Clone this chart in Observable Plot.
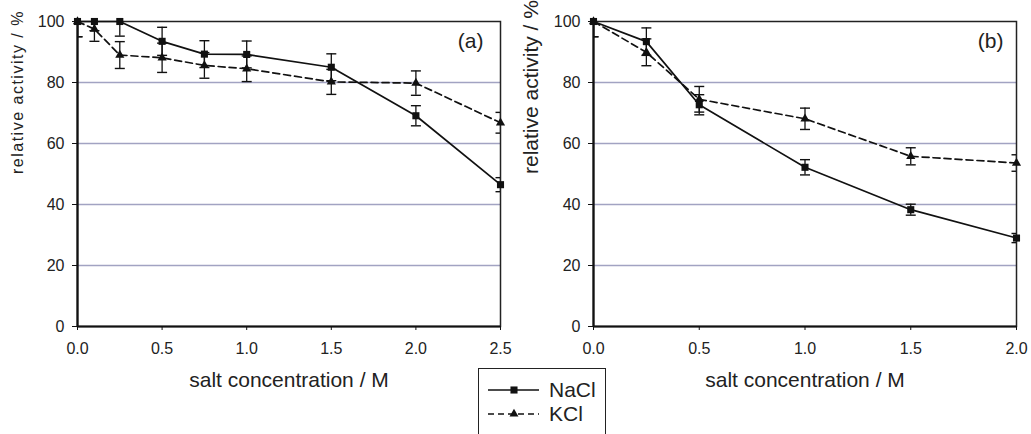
<!DOCTYPE html>
<html>
<head>
<meta charset="utf-8">
<script src="https://cdn.jsdelivr.net/npm/d3@7"></script>
<script src="https://cdn.jsdelivr.net/npm/@observablehq/plot@0.6"></script>
<style>
  html, body { margin: 0; padding: 0; background: #fff; }
  #wrap { position: relative; width: 1031px; height: 434px; overflow: hidden; font-family: "Liberation Sans", Arial, sans-serif; }
  #pa { position: absolute; left: 0; top: 0; }
  #pb { position: absolute; left: 515px; top: 0; }
  #legend { position: absolute; left: 478px; top: 368px; width: 128px; height: 80px; border: 1.5px solid #222; background: #fff; box-sizing: border-box; }
  #legend .row { position: absolute; left: 0; height: 24px; display: flex; align-items: center; }
  #legend .row span { font-size: 21px; color: #222; margin-left: 9px; }
</style>
</head>
<body>
<div id="wrap">
  <div id="pa"></div>
  <div id="pb"></div>
  <div id="legend"></div>
</div>
<script>
// ---- data ----
// panel (a)
const xA = [0, 0.1, 0.25, 0.5, 0.75, 1.0, 1.5, 2.0, 2.5];
const naclA = [100, 100, 100, 93.5, 89.3, 89.2, 85.0, 69.1, 46.5];
const naclAErr = [5, 3, 4.8, 4.6, 4.4, 4.4, 4.4, 3.3, 2.3];
const kclA = [100, 97.5, 89.0, 88.1, 85.6, 84.5, 80.2, 79.8, 66.8];
const kclAErr = [5, 4, 4.4, 4.8, 4.2, 4.2, 4.1, 4.0, 3.4];
// panel (b)
const xB = [0, 0.25, 0.5, 1.0, 1.5, 2.0];
const naclB = [100, 93.4, 72.7, 52.2, 38.3, 29.0];
const naclBErr = [5, 4.5, 3.3, 2.5, 1.8, 1.5];
const kclB = [100, 89.9, 74.5, 68.1, 55.8, 53.6];
const kclBErr = [5, 4.4, 4.2, 3.5, 2.8, 2.7];
// ticks and labels
const yTicks = [0, 20, 40, 60, 80, 100];
const gridTicks = [20, 40, 60, 80];
const xTicksA = [0, 0.5, 1.0, 1.5, 2.0, 2.5];
const xTicksB = [0, 0.5, 1.0, 1.5, 2.0];
const series = ["NaCl", "KCl"];
const xLabel = "salt concentration / M";
const yLabel = "relative activity / %";

const capSymbol = {
  draw(ctx, size) {
    const r = Math.sqrt(size / Math.PI);
    ctx.moveTo(-r, 0);
    ctx.lineTo(r, 0);
  }
};

function rows(xs, ys, es, s) {
  return xs.map((x, i) => ({x, y: ys[i], e: es[i], s}));
}

function panel(opts) {
  const {xs, na, naE, k, kE, xmax, xTicks, tag, width, mL, yLabelSize, yLabelDx, yLabelSpacing, tagDx} = opts;
  const dNa = rows(xs, na, naE, series[0]);
  const dK = rows(xs, k, kE, series[1]);
  const all = dNa.concat(dK);
  const ink = "#111";
  const fmt = d3.format(".1f");
  const plot = Plot.plot({
    width, height: 400,
    marginLeft: mL, marginRight: 15, marginTop: 21, marginBottom: 74,
    style: {fontFamily: "'Liberation Sans', Arial, sans-serif", fontSize: "16px", background: "transparent", color: "#222"},
    x: {domain: [0, xmax]},
    y: {domain: [0, 100]},
    marks: [
      Plot.gridY(gridTicks, {stroke: "#a2a3c2", strokeOpacity: 1, strokeWidth: 1.6}),
      Plot.frame({stroke: "#222", strokeWidth: 1.5}),
      Plot.ruleX([0], {stroke: "#111", strokeWidth: 2.2}),
      Plot.ruleY([0], {stroke: "#111", strokeWidth: 2.2}),
      Plot.axisY({ticks: yTicks, tickSize: 5, tickFormat: () => "", label: null, stroke: "#111"}),
      Plot.axisX({ticks: xTicks, tickSize: 4, tickFormat: () => "", label: null, stroke: "#111"}),
      Plot.text(yTicks, {y: d => d, frameAnchor: "left", dx: -13, text: d => String(d), textAnchor: "end", lineAnchor: "middle", fontSize: 16, fill: "#222"}),
      Plot.text(xTicks, {x: d => d, frameAnchor: "bottom", dy: 22, text: d => fmt(d), lineAnchor: "middle", fontSize: 16, fill: "#222"}),
      // error bars
      Plot.ruleX(all, {x: "x", y1: d => d.y - d.e, y2: d => d.y + d.e, stroke: ink, strokeWidth: 1.3, clip: true}),
      Plot.dot(all, {x: "x", y: d => d.y - d.e, symbol: capSymbol, r: 5, fill: "none", stroke: ink, strokeWidth: 1.4, clip: true}),
      Plot.dot(all, {x: "x", y: d => d.y + d.e, symbol: capSymbol, r: 5, fill: "none", stroke: ink, strokeWidth: 1.4, clip: true}),
      // lines
      Plot.line(dK, {x: "x", y: "y", stroke: ink, strokeWidth: 1.7, strokeDasharray: "7,4"}),
      Plot.line(dNa, {x: "x", y: "y", stroke: ink, strokeWidth: 1.7}),
      // markers
      Plot.dot(dK, {x: "x", y: "y", symbol: "triangle", r: 3.4, fill: ink, stroke: "none"}),
      Plot.dot(dNa, {x: "x", y: "y", symbol: "square", r: 4, fill: ink, stroke: "none"}),
      // labels
      Plot.text([tag], {frameAnchor: "top-right", dx: tagDx, dy: 20, text: d => d, fontSize: 21, textAnchor: "end", lineAnchor: "middle", fill: "#222"}),
      Plot.text([xLabel], {frameAnchor: "bottom", dy: 54, text: d => d, fontSize: 21, lineAnchor: "middle", fill: "#222"}),
      Plot.text([yLabel], {frameAnchor: "left", dx: yLabelDx, rotate: -90, text: d => d, fontSize: yLabelSize, lineAnchor: "middle", fill: "#222"})
    ]
  });
  if (yLabelSpacing) {
    d3.select(plot).selectAll("text").filter(function() { return this.textContent === yLabel; })
      .attr("letter-spacing", yLabelSpacing);
  }
  return plot;
}

document.getElementById("pa").appendChild(panel({
  xs: xA, na: naclA, naE: naclAErr, k: kclA, kE: kclAErr, xmax: 2.5, xTicks: xTicksA,
  tag: "(a)", width: 515, mL: 77, yLabelSize: 16, yLabelDx: -60, yLabelSpacing: 1.5, tagDx: -17
}));
document.getElementById("pb").appendChild(panel({
  xs: xB, na: naclB, naE: naclBErr, k: kclB, kE: kclBErr, xmax: 2.0, xTicks: xTicksB,
  tag: "(b)", width: 516, mL: 78, yLabelSize: 21, yLabelDx: -62, yLabelSpacing: 0, tagDx: -13
}));

// legend
const legend = document.getElementById("legend");
const tops = [9, 33];
series.forEach((name, i) => {
  const row = document.createElement("div");
  row.className = "row";
  row.style.top = tops[i] + "px";
  const ns = "http://www.w3.org/2000/svg";
  const svg = document.createElementNS(ns, "svg");
  svg.setAttribute("width", 61);
  svg.setAttribute("height", 24);
  const line = document.createElementNS(ns, "line");
  line.setAttribute("x1", 9); line.setAttribute("x2", 60);
  line.setAttribute("y1", 12); line.setAttribute("y2", 12);
  line.setAttribute("stroke", "#111"); line.setAttribute("stroke-width", 1.6);
  if (i === 1) line.setAttribute("stroke-dasharray", "6,4");
  svg.appendChild(line);
  const sym = document.createElementNS(ns, "path");
  sym.setAttribute("d", d3.symbol(i === 0 ? d3.symbolSquare : d3.symbolTriangle, (i === 0 ? 16 : 11) * Math.PI)());
  sym.setAttribute("transform", "translate(35,12)");
  sym.setAttribute("fill", "#111");
  svg.appendChild(sym);
  row.appendChild(svg);
  const t = document.createElement("span");
  t.textContent = name;
  row.appendChild(t);
  legend.appendChild(row);
});
</script>
</body>
</html>
